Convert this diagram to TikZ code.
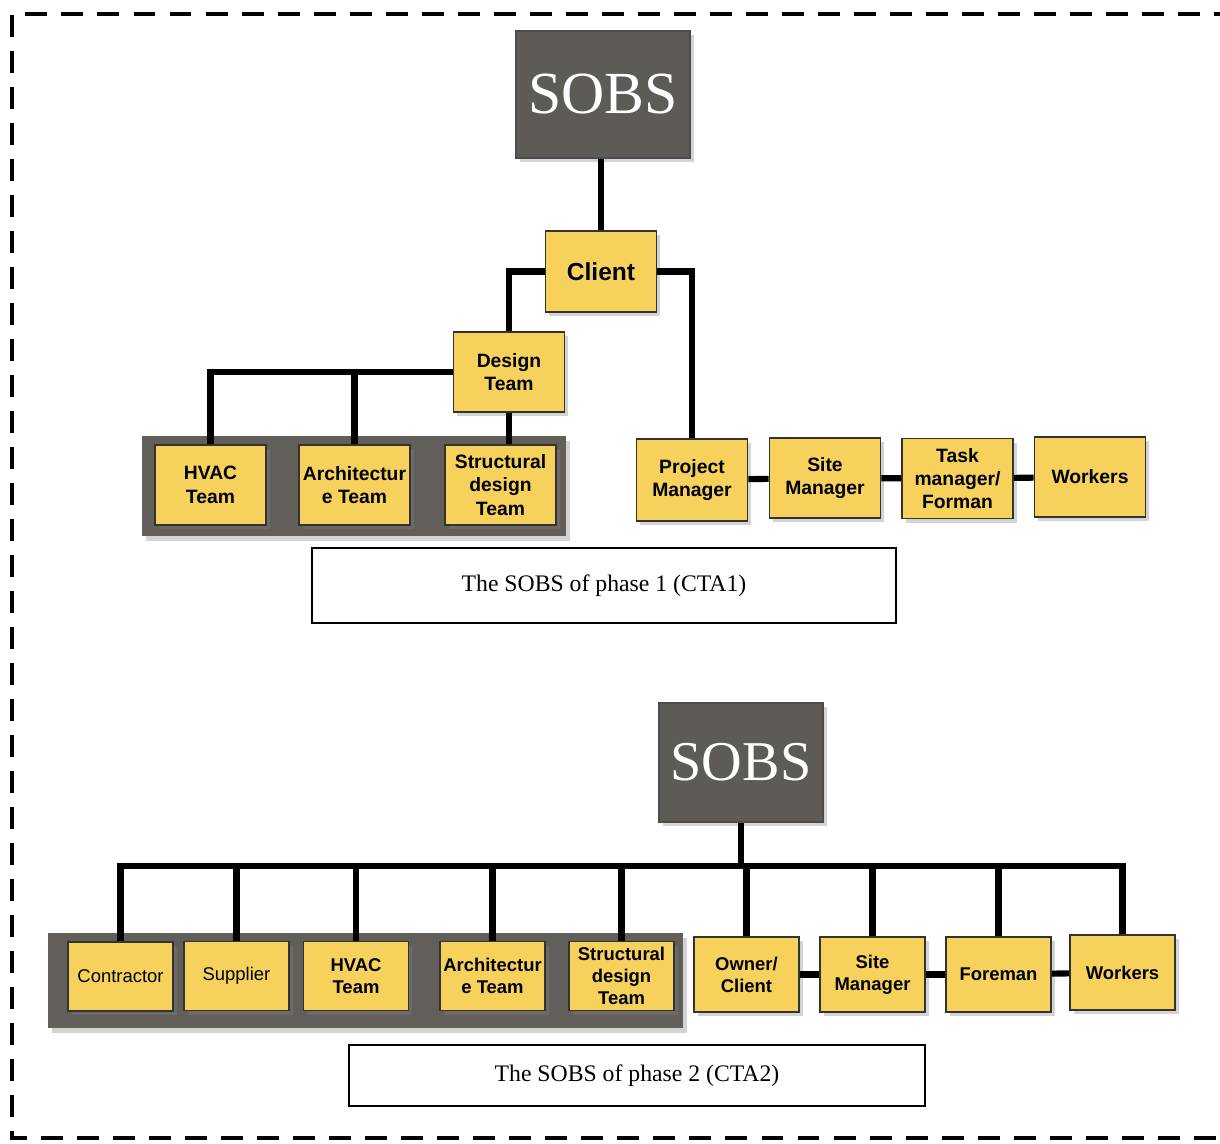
\documentclass[tikz,border=0pt]{standalone}
\usepackage{fontspec}
\setmainfont{Liberation Serif}
\setsansfont{Liberation Sans}
\usetikzlibrary{shadows}
\definecolor{boxyellow}{RGB}{246,210,92}
\definecolor{sobsgray}{RGB}{94,90,86}
\definecolor{panelgray}{RGB}{98,94,90}

\begin{document}
\begin{tikzpicture}[x=0.02cm, y=-0.02cm,
	unit/.style={draw=black!80, line width=1pt, fill=boxyellow, align=center, inner sep=1pt,
		font=\sffamily\bfseries\fontsize{11}{13.3}\selectfont, minimum width=2.22cm, minimum height=1.6cm,
		drop shadow={shadow xshift=2pt, shadow yshift=-2.5pt, opacity=.35}},
	unitB/.style={unit, font=\sffamily\bfseries\fontsize{10.5}{12.5}\selectfont, minimum width=2.1cm, minimum height=1.38cm},
	unitC/.style={unitB, font=\sffamily\fontsize{10.5}{12.5}\selectfont},
	sobsbox/.style={draw=black!70, line width=1pt, fill=sobsgray, text=white, inner sep=0pt,
		font=\rmfamily\fontsize{34}{40}\selectfont,
		drop shadow={shadow xshift=2pt, shadow yshift=-2.5pt, opacity=.35}},
	capbox/.style={draw, line width=1.5pt, fill=white, font=\rmfamily\fontsize{13.5}{16}\selectfont},
	conn/.style={line width=3.5pt}]
		\useasboundingbox (0,0) rectangle (1220,1143);
		\draw[line width=2.8pt, dash pattern=on 12.5pt off 8pt] (1236,14) -- (12,14) -- (12,1138) -- (1236,1138);

		\fill[panelgray, drop shadow={shadow xshift=2pt, shadow yshift=-3pt, opacity=.35}] (142,436) rectangle (566,536);
		\fill[panelgray, drop shadow={shadow xshift=2pt, shadow yshift=-3pt, opacity=.35}] (48,933) rectangle (683,1028);

		\node[sobsbox, minimum width=3.48cm, minimum height=2.54cm] (sobsA) at (603,94.5) {SOBS};
		\node[unit, font=\sffamily\bfseries\fontsize{14}{16}\selectfont, minimum height=1.62cm] (client) at (601,271.5) {Client};
		\node[unit] (design) at (509,372) {Design\\Team};
		\node[unit] (hvac) at (210.5,485) {HVAC\\Team};
		\node[unit] (arch) at (354.5,485) {Architectur\\e Team};
		\node[unit] (struct) at (500.5,485) {Structural\\design\\Team};
		\node[unit, minimum height=1.64cm] (pm) at (692,480) {Project\\Manager};
		\node[unit] (site) at (825,478) {Site\\Manager};
		\node[unit] (task) at (957.5,478.5) {Task\\manager/\\Forman};
		\node[unit] (work) at (1090,477) {Workers};
		\node[capbox, minimum width=11.68cm, minimum height=1.5cm] (capA) at (604,585.5) {The SOBS of phase 1 (CTA1)};

		\draw[conn] (sobsA.south -| client) -- (client);
		\draw[conn] (client.west) -| (design.north);
		\draw[conn] (client.east) -| (pm.north);
		\draw[conn] (design.west) -| (hvac.north);
		\draw[conn] (design.west) -| (arch.north);
		\draw[conn] (design.south) -- (design.south |- struct.north);
		\draw[conn] (pm) -- (site);
		\draw[conn] (site) -- (task);
		\draw[conn] (task) -- (work);

		\node[sobsbox, minimum width=3.28cm, minimum height=2.38cm, font=\rmfamily\fontsize{32}{38}\selectfont] (sobsB) at (741,762.5) {SOBS};
		\node[unitC] (con) at (120.5,976.5) {Contractor};
		\node[unitC] (sup) at (236.5,976) {Supplier};
		\node[unitB] (hvacB) at (356,976) {HVAC\\Team};
		\node[unitB] (archB) at (492.5,976) {Architectur\\e Team};
		\node[unitB] (structB) at (621.5,976) {Structural\\design\\Team};
		\node[unitB, minimum height=1.5cm] (own) at (746.5,974.5) {Owner/\\Client};
		\node[unitB, minimum height=1.5cm] (siteB) at (872.5,974.5) {Site\\Manager};
		\node[unitB, minimum height=1.5cm] (fore) at (998.5,974.5) {Foreman};
		\node[unitB, minimum height=1.5cm] (workB) at (1122.5,972.5) {Workers};
		\node[capbox, minimum width=11.52cm, minimum height=1.22cm] (capB) at (637,1075.5) {The SOBS of phase 2 (CTA2)};

		\coordinate (bus) at (741,866);
		\draw[conn] (sobsB) -- (bus);
		\draw[conn] (con.north) |- (bus) -| (workB.north);
		\foreach \n in {sup,hvacB,archB,structB,own,siteB,fore}
			\draw[conn] (\n.north) -- (\n.north |- bus);
		\draw[conn] (own) -- (siteB);
		\draw[conn] (siteB) -- (fore);
		\draw[conn] (fore) -- (workB);
	\end{tikzpicture}
\end{document}
